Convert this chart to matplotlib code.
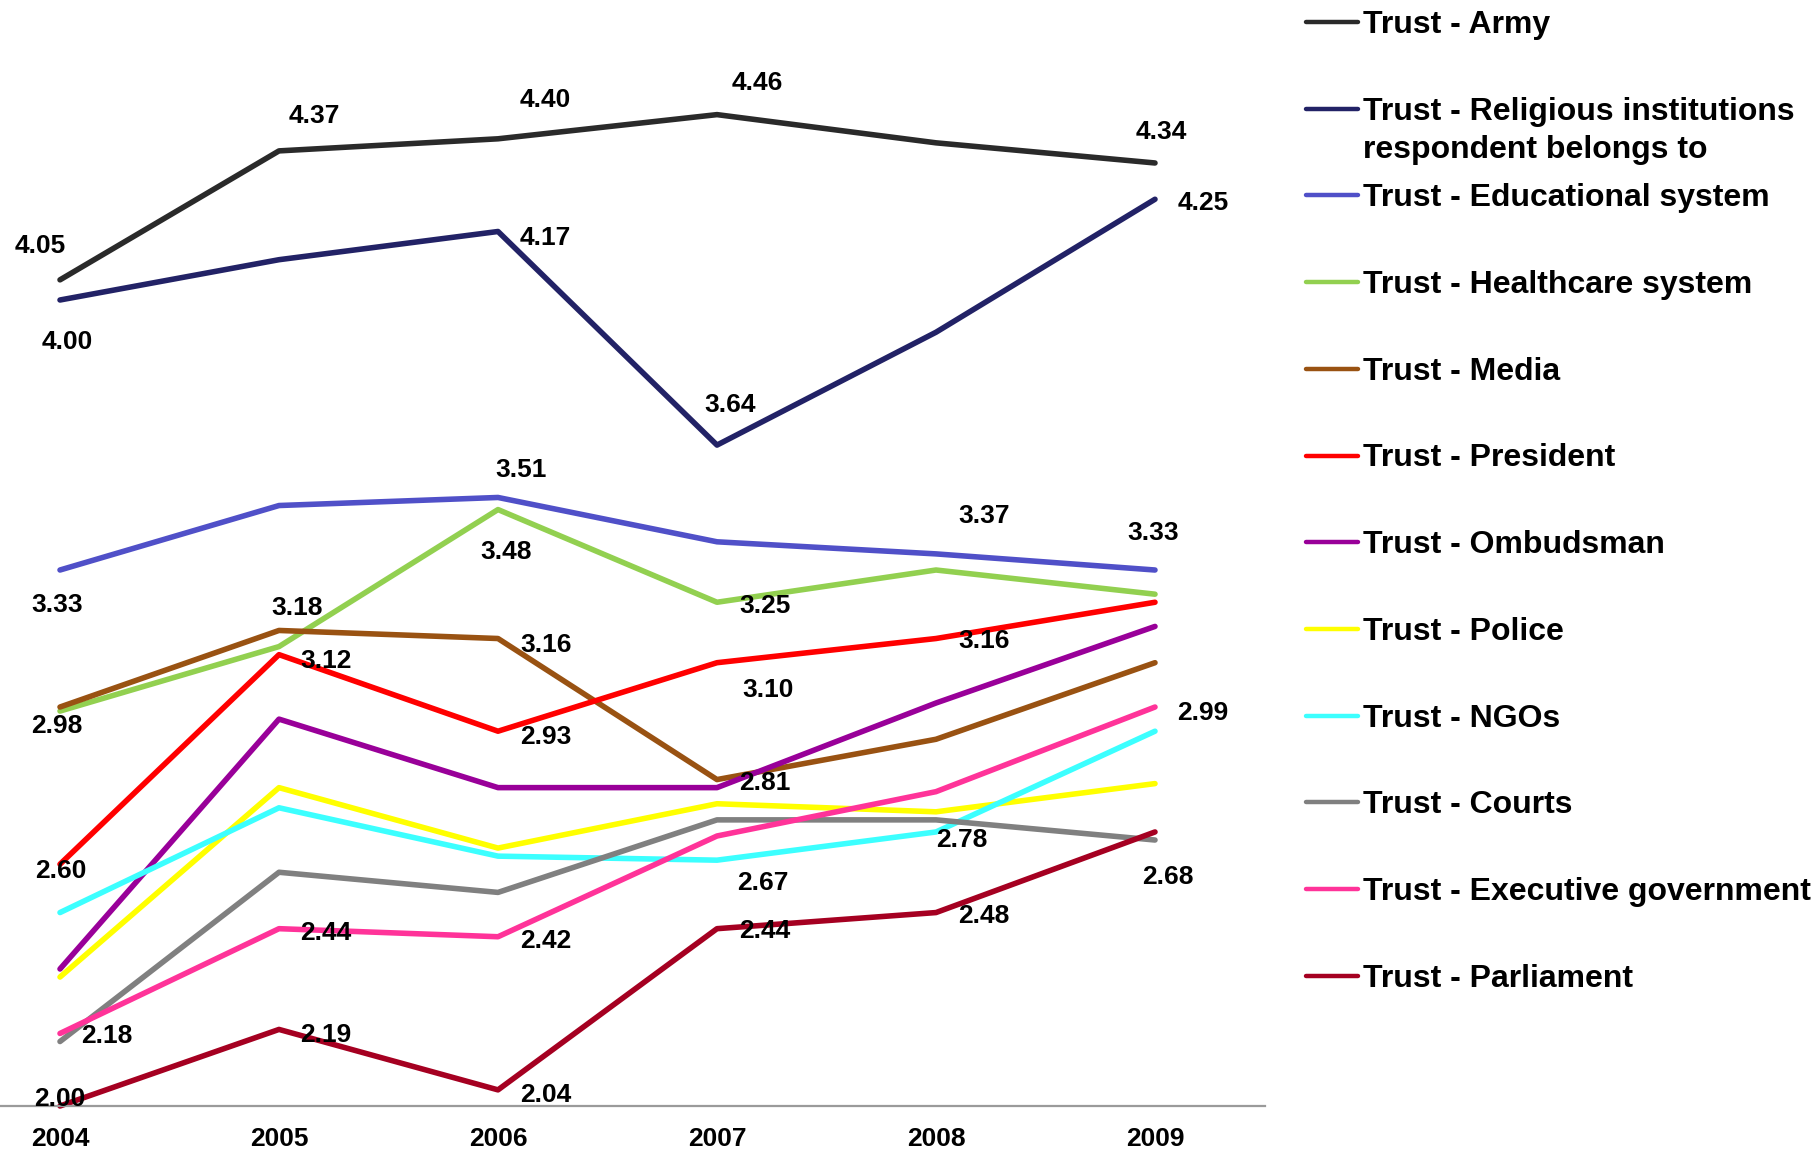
import matplotlib
matplotlib.use('Agg')
import matplotlib.pyplot as plt
from matplotlib.lines import Line2D

plt.rcParams['font.family'] = ['Liberation Sans', 'DejaVu Sans']

# ---------------- data ----------------
years = ['2004', '2005', '2006', '2007', '2008', '2009']

army        = [4.05, 4.37, 4.40, 4.46, 4.39, 4.34]
religious   = [4.00, 4.10, 4.17, 3.64, 3.92, 4.25]
educational = [3.33, 3.49, 3.51, 3.40, 3.37, 3.33]
healthcare  = [2.98, 3.14, 3.48, 3.25, 3.33, 3.27]
media       = [2.99, 3.18, 3.16, 2.81, 2.91, 3.10]
president   = [2.60, 3.12, 2.93, 3.10, 3.16, 3.25]
ombudsman   = [2.34, 2.96, 2.79, 2.79, 3.00, 3.19]
police      = [2.32, 2.79, 2.64, 2.75, 2.73, 2.80]
ngos        = [2.48, 2.74, 2.62, 2.61, 2.68, 2.93]
courts      = [2.16, 2.58, 2.53, 2.71, 2.71, 2.66]
executive   = [2.18, 2.44, 2.42, 2.67, 2.78, 2.99]
parliament  = [2.00, 2.19, 2.04, 2.44, 2.48, 2.68]

series_names = [
    'Trust - Army',
    'Trust - Religious institutions\nrespondent belongs to',
    'Trust - Educational system',
    'Trust - Healthcare system',
    'Trust - Media',
    'Trust - President',
    'Trust - Ombudsman',
    'Trust - Police',
    'Trust - NGOs',
    'Trust - Courts',
    'Trust - Executive government',
    'Trust - Parliament',
]
series_values = [army, religious, educational, healthcare, media, president,
                 ombudsman, police, ngos, courts, executive, parliament]

# ---------------- styles ----------------
colors = ['#2a2a2a', '#222266', '#5050c8', '#92d050', '#995212', '#ff0000',
          '#990099', '#ffff00', '#3cffff', '#808080', '#ff3399', '#a50021']

# which points carry a value label: series index -> [(point index, dx px, dy px (down))]
label_pos = {
    0: [(0, -20, -36), (1, 35, -37), (2, 47, -41), (3, 40, -34), (5, 6, -33)],
    1: [(0, 7, 40), (2, 47, 4), (3, 13, -43), (5, 48, 1)],
    2: [(0, -3, 32), (2, 23, -30), (4, 48, -40), (5, -2, -40)],
    3: [(0, -3, 12), (2, 8, 40), (3, 48, 1)],
    4: [(1, 18, -25), (2, 48, 4), (3, 48, 1)],
    5: [(0, 1, 4), (1, 47, 4), (2, 48, 3), (3, 51, 25), (4, 48, 0)],
    10: [(0, 47, 0), (1, 47, 2), (2, 48, 2), (3, 46, 45), (4, 26, 46), (5, 48, 3)],
    11: [(0, 0, -9), (1, 47, 3), (2, 48, 3), (3, 48, 0), (4, 48, 1), (5, 13, 43)],
}

W, H = 1817, 1151
fig = plt.figure(figsize=(W / 100, H / 100), dpi=100)
ax = fig.add_axes([-49.5 / W, 45 / H, 1314 / W, 1106 / H])

x = list(range(len(years)))
for vals, col in zip(series_values, colors):
    ax.plot(x, vals, color=col, lw=4.0, solid_capstyle='round',
            solid_joinstyle='round', clip_on=False)

ax.set_xlim(-0.5, len(years) - 0.5)
ax.set_ylim(2.0, 2.0 + 1106 / 403)

for s in ['left', 'right', 'top']:
    ax.spines[s].set_visible(False)
ax.spines['bottom'].set_color('#9a9a9a')
ax.spines['bottom'].set_linewidth(1.6)
ax.set_yticks([])
ax.set_xticks(x)
ax.set_xticklabels(years, fontsize=19, fontweight='bold')
ax.tick_params(axis='x', length=0, pad=15)

for si, specs in label_pos.items():
    vals = series_values[si]
    for (i, dx, dy) in specs:
        ax.annotate(f"{vals[i]:.2f}", (i, vals[i]), xytext=(dx, -(dy + 9.5)),
                    textcoords='offset pixels', ha='center', va='baseline',
                    fontsize=19, fontweight='bold', color='black',
                    annotation_clip=False)

# ---------------- legend ----------------
for k, (name, col) in enumerate(zip(series_names, colors)):
    yc = 22 + 86.7 * k
    fig.add_artist(Line2D([1306 / W, 1358 / W], [1 - yc / H, 1 - yc / H],
                          color=col, lw=3.2, solid_capstyle='round'))
    for j, line in enumerate(name.split('\n')):
        fig.text(1363 / W, 1 - (yc + 11 + 38 * j) / H, line, ha='left',
                 va='baseline', fontsize=23, fontweight='bold', color='black')

fig.savefig('out.png', dpi=100, facecolor='white')
